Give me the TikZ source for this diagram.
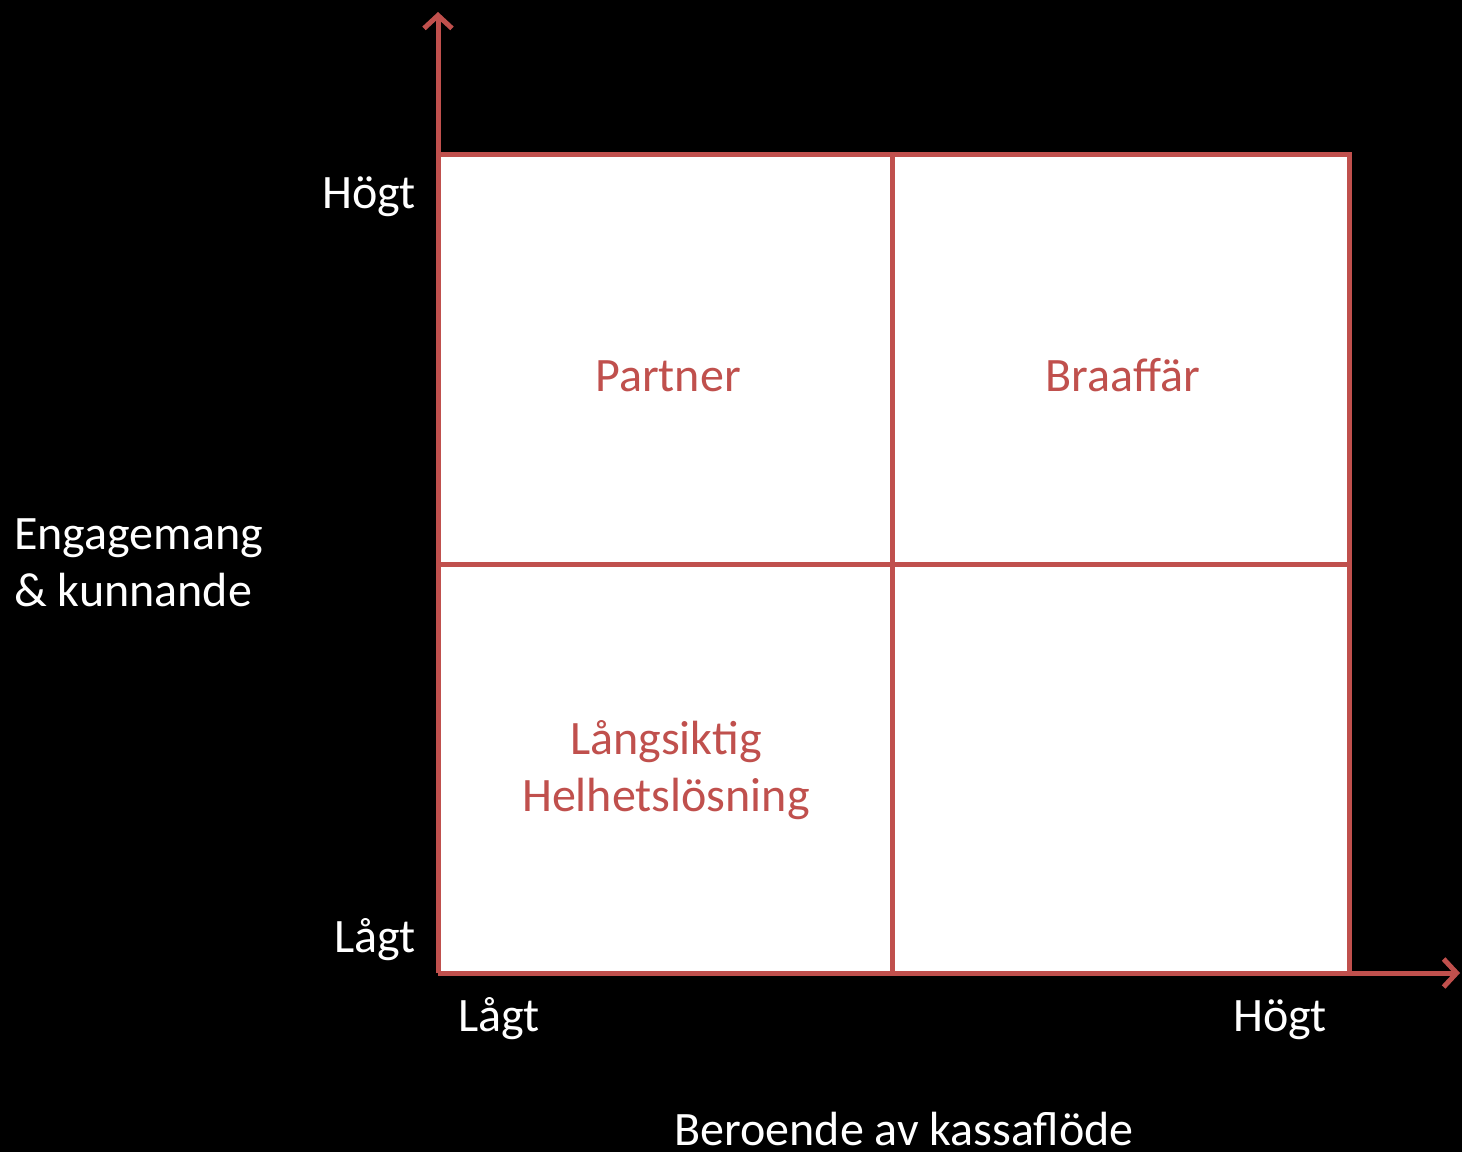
\documentclass[tikz,border=0pt]{standalone}
\usepackage{fontspec}
\setmainfont{Carlito}
\usetikzlibrary{arrows.meta}
\definecolor{accred}{HTML}{C0504D}
\begin{document}
\begin{tikzpicture}[x=1pt,y=-1pt,
  gridline/.style={draw=accred,line width=5pt},
  axisline/.style={draw=accred,line width=5pt,-{Straight Barb[length=13pt,width=28pt,line width=5pt]}},
  wlabel/.style={text=white,font=\fontsize{48}{57}\selectfont,inner sep=0pt},
  rlabel/.style={text=accred,font=\fontsize{48}{57}\selectfont,inner sep=0pt}]
\fill[black] (0,0) rectangle (1462,1152);
\useasboundingbox (0,0) rectangle (1462,1152);
\coordinate (tl) at (438,154);
\coordinate (br) at (1349,973);
\coordinate (origin) at (438,973);
\coordinate (ytip) at (438,12);
\coordinate (xtip) at (1460,973);
\coordinate (mt) at (892,154);
\coordinate (mb) at (892,973);
\coordinate (ml) at (438,564);
\coordinate (mr) at (1349,564);
\fill[white] (tl) rectangle (br);
\draw[gridline] (tl) -- (tl -| br) -- (br);
\draw[gridline] (mt) -- (mb);
\draw[gridline] (ml) -- (mr);
\draw[axisline] (origin) -- (ytip);
\draw[axisline] (origin) -- (xtip);
\node[wlabel,anchor=base east] (yhigh) at (416,208) {Högt};
\node[wlabel,anchor=base east] (ylow) at (416,952) {Lågt};
\node[wlabel,anchor=base west,align=left] (ytitle) at (14,606) {Engagemang\\\& kunnande};
\node[wlabel,anchor=base west] (xlow) at (458,1031) {Lågt};
\node[wlabel,anchor=base east] (xhigh) at (1327,1031) {Högt};
\node[wlabel,anchor=base] (xtitle) at (904,1145) {Beroende av kassaflöde};
\node[rlabel,anchor=base] (partner) at (668,391) {Partner};
\node[rlabel,anchor=base] (braaffar) at (1123,391) {Braaffär};
\node[rlabel,anchor=base,align=center] (lang) at (666,811) {Långsiktig\\Helhetslösning};
\end{tikzpicture}
\end{document}
